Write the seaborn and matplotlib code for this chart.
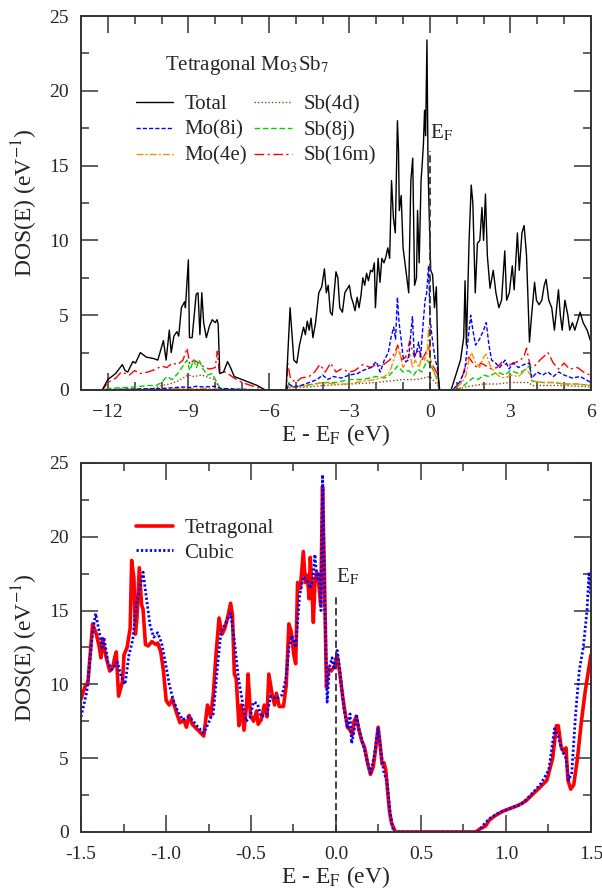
import matplotlib
matplotlib.use("Agg")
import matplotlib.pyplot as plt
import seaborn as sns
from matplotlib.ticker import MultipleLocator, FormatStrFormatter

# ---- top panel: tetragonal Mo3Sb7, total and partial DOS ----
tot_e = [-13.0, -12.21, -12.0, -11.71, -11.46, -11.36, -11.26, -11.07, -10.97, -10.79,
         -10.57, -10.29, -10.14, -9.93, -9.83, -9.71, -9.64, -9.54, -9.43, -9.36,
         -9.26, -9.14, -9.11, -9.0, -8.96, -8.86, -8.71, -8.64, -8.57, -8.5,
         -8.43, -8.33, -8.21, -8.11, -8.0, -7.93, -7.89, -7.83, -7.69, -7.54,
         -7.43, -7.29, -6.86, -6.43, -6.14, -5.36, -5.21, -5.07, -4.96, -4.86,
         -4.71, -4.64, -4.57, -4.5, -4.43, -4.36, -4.26, -4.14, -4.03, -3.93,
         -3.86, -3.79, -3.71, -3.64, -3.5, -3.43, -3.36, -3.26, -3.17, -3.07,
         -3.0, -2.93, -2.86, -2.79, -2.71, -2.64, -2.57, -2.5, -2.43, -2.36,
         -2.29, -2.21, -2.14, -2.07, -2.03, -1.93, -1.86, -1.79, -1.71, -1.64,
         -1.57, -1.5, -1.43, -1.36, -1.29, -1.21, -1.17, -1.14, -1.07, -1.0,
         -0.93, -0.86, -0.79, -0.71, -0.64, -0.57, -0.5, -0.46, -0.4, -0.33,
         -0.29, -0.24, -0.2, -0.16, -0.11, -0.07, -0.03, 0.03, 0.1, 0.17,
         0.24, 0.31, 0.36, 0.79, 0.93, 1.14, 1.26, 1.31, 1.36, 1.46,
         1.54, 1.6, 1.69, 1.77, 1.86, 1.94, 2.0, 2.07, 2.14, 2.24,
         2.36, 2.46, 2.57, 2.67, 2.79, 2.86, 2.96, 3.07, 3.14, 3.26,
         3.33, 3.43, 3.51, 3.6, 3.71, 3.79, 3.9, 3.97, 4.07, 4.17,
         4.26, 4.33, 4.43, 4.54, 4.64, 4.79, 4.86, 4.93, 5.03, 5.14,
         5.21, 5.31, 5.4, 5.5, 5.6, 5.71, 5.86, 6.0]
tot_dos = [0, 0, 0.7, 1.1, 1.7, 1.3, 1.2, 1.9, 1.8, 2.5,
           2.2, 2.1, 2.0, 3.3, 2.0, 4.0, 2.5, 3.6, 3.9, 3.6,
           5.5, 5.9, 5.5, 8.7, 3.5, 3.5, 6.4, 6.5, 3.7, 6.5,
           4.5, 3.5, 4.3, 4.7, 4.5, 4.7, 4.4, 1.1, 1.2, 1.9,
           1.5, 0.9, 0.6, 0.3, 0.0, 0.0, 5.5, 2.0, 1.8, 3.0,
           4.2, 3.7, 4.6, 4.0, 4.8, 3.5, 4.5, 6.5, 6.9, 8.1,
           6.5, 7.0, 5.2, 5.0, 7.9, 7.5, 5.5, 5.2, 6.5, 6.8,
           7.0, 6.2, 5.8, 5.3, 6.2, 5.5, 6.3, 7.5, 7.0, 7.8,
           7.3, 8.0, 7.9, 8.5, 5.5, 8.8, 7.2, 8.8, 8.5, 8.9,
           9.5, 8.8, 14.0, 11.5, 10.5, 18.0, 16.0, 12.0, 13.0, 9.5,
           8.5, 7.5, 6.5, 14.0, 15.5, 7.0, 7.5, 12.0, 8.5, 14.0,
           15.0, 16.5, 18.7, 17.0, 23.4, 15.0, 12.0, 8.0, 7.7, 5.5,
           6.9, 1.0, 0.0, 0.0, 0.8, 2.0, 3.5, 7.3, 3.0, 10.0,
           13.7, 12.5, 6.5, 9.8, 10.0, 12.2, 10.0, 13.1, 9.0, 6.8,
           8.0, 6.5, 5.5, 6.0, 9.3, 6.0, 6.5, 8.3, 6.7, 10.5,
           8.0, 10.5, 11.0, 9.0, 3.2, 5.0, 7.2, 6.0, 5.7, 6.0,
           7.0, 7.4, 6.0, 5.5, 4.0, 6.7, 5.0, 4.0, 6.0, 5.0,
           4.0, 4.5, 4.0, 4.6, 5.2, 4.5, 4.0, 3.2]

mo8i_e = [-13, -12.2, -11.5, -10, -9.2, -9.0, -8.7, -8.4, -8.0, -7.8,
          -7.0, -6.2, -5.35, -5.25, -5.1, -4.8, -4.5, -4.2, -4.0, -3.8,
          -3.6, -3.3, -3.0, -2.7, -2.5, -2.2, -2.0, -1.85, -1.7, -1.55,
          -1.45, -1.35, -1.28, -1.21, -1.15, -1.08, -1.0, -0.9, -0.8, -0.7,
          -0.65, -0.58, -0.5, -0.42, -0.35, -0.25, -0.18, -0.12, -0.05, 0.0,
          0.05, 0.12, 0.2, 0.28, 0.33, 0.36, 0.85, 1.1, 1.3, 1.4,
          1.52, 1.6, 1.7, 1.85, 2.0, 2.1, 2.2, 2.3, 2.45, 2.6,
          2.8, 2.95, 3.1, 3.3, 3.5, 3.7, 3.8, 4.0, 4.2, 4.4,
          4.6, 4.8, 5.0, 5.3, 5.6, 5.8, 6.0]
mo8i_dos = [0, 0, 0.05, 0.1, 0.2, 0.15, 0.25, 0.2, 0.25, 0.1,
            0.05, 0, 0, 0.4, 0.2, 0.3, 0.5, 0.7, 1.0, 0.7,
            0.9, 0.8, 1.0, 1.1, 1.3, 1.5, 1.9, 1.2, 2.0, 2.5,
            3.5, 4.2, 3.4, 6.2, 4.5, 3.5, 2.2, 1.9, 2.0, 4.0,
            4.9, 2.2, 2.5, 3.2, 2.2, 4.5, 6.0, 6.5, 8.3, 5.0,
            4.0, 3.0, 2.0, 1.5, 0.5, 0, 0, 0.5, 1.3, 3.0,
            5.0, 4.0, 3.0, 3.4, 4.0, 4.5, 3.0, 2.0, 1.8, 1.5,
            2.0, 1.4, 1.8, 1.5, 1.7, 1.8, 0.8, 1.2, 1.0, 1.2,
            0.9, 1.2, 1.0, 0.8, 0.9, 0.7, 0.5]

mo4e_e = [-13, -12.2, -11, -9.0, -8, -7.8, -6.5, -5.35, -5.25, -5.0,
          -4.5, -4.0, -3.5, -3.0, -2.5, -2.0, -1.7, -1.5, -1.35, -1.2,
          -1.1, -1.0, -0.9, -0.75, -0.65, -0.55, -0.4, -0.3, -0.2, -0.1,
          -0.05, 0.02, 0.1, 0.2, 0.3, 0.36, 0.9, 1.2, 1.35, 1.45,
          1.55, 1.7, 1.85, 2.0, 2.1, 2.25, 2.4, 2.6, 2.8, 3.0,
          3.3, 3.6, 3.75, 3.8, 4.2, 4.6, 5.0, 5.5, 6.0]
mo4e_dos = [0, 0, 0.05, 0.1, 0.1, 0.02, 0, 0, 0.3, 0.2,
            0.3, 0.5, 0.4, 0.4, 0.6, 0.7, 0.9, 1.2, 2.0, 2.8,
            2.3, 1.5, 1.8, 2.5, 1.5, 2.0, 1.5, 2.3, 2.0, 2.5,
            4.2, 2.0, 1.5, 1.0, 0.4, 0, 0, 0.5, 1.0, 2.0,
            2.5, 1.8, 1.5, 2.2, 2.4, 1.6, 1.2, 0.9, 0.8, 1.0,
            0.9, 1.4, 1.0, 0.6, 0.5, 0.5, 0.4, 0.4, 0.3]

sb4d_e = [-13, -12.2, -11, -10.3, -10, -9.7, -9.4, -9.2, -9.0, -8.8,
          -8.5, -8.2, -8.0, -7.85, -7.0, -6.2, -5.35, -5.25, -4.5, -4.0,
          -3.0, -2.0, -1.5, -1.0, -0.5, 0.0, 0.15, 0.3, 0.36, 1.0,
          1.3, 2.0, 2.5, 3.0, 3.7, 3.8, 4.5, 5.0, 6.0]
sb4d_dos = [0, 0, 0.05, 0.1, 0.3, 0.4, 0.6, 0.8, 1.0, 0.9,
            1.0, 0.8, 0.7, 0.1, 0.02, 0, 0, 0.15, 0.2, 0.3,
            0.4, 0.5, 0.6, 0.7, 0.7, 0.9, 0.6, 0.3, 0, 0,
            0.2, 0.4, 0.4, 0.5, 0.5, 0.3, 0.3, 0.3, 0.2]

sb8j_e = [-13, -12.2, -12, -11, -10.5, -10.2, -10.0, -9.8, -9.6, -9.4,
          -9.2, -9.05, -8.95, -8.8, -8.7, -8.6, -8.45, -8.3, -8.1, -7.95,
          -7.8, -7.0, -5.35, -5.25, -5.1, -4.8, -4.5, -4.0, -3.5, -3.0,
          -2.5, -2.0, -1.7, -1.5, -1.3, -1.2, -1.0, -0.8, -0.6, -0.45,
          -0.3, -0.1, 0.05, 0.15, 0.3, 0.36, 1.0, 1.2, 1.4, 1.6,
          1.8, 2.0, 2.2, 2.5, 2.8, 3.0, 3.3, 3.5, 3.7, 3.8,
          4.2, 4.6, 5.0, 5.5, 6.0]
sb8j_dos = [0, 0, 0.1, 0.2, 0.3, 0.3, 0.5, 0.9, 0.7, 1.1,
            1.6, 2.0, 1.3, 2.0, 1.5, 2.0, 1.4, 1.0, 1.1, 0.5,
            0.1, 0.0, 0, 0.5, 0.2, 0.3, 0.35, 0.5, 0.5, 0.7,
            0.7, 0.9, 0.8, 1.0, 1.4, 1.6, 1.2, 1.3, 1.0, 1.4,
            1.2, 2.0, 1.6, 1.2, 0.6, 0, 0, 0.2, 0.5, 0.8,
            0.7, 1.0, 0.9, 1.2, 1.0, 1.3, 1.1, 1.3, 1.6, 0.6,
            0.5, 0.5, 0.4, 0.4, 0.3]

sb16m_e = [-13, -12.2, -12.0, -11.7, -11.5, -11.2, -11.0, -10.8, -10.5, -10.2,
           -10.0, -9.8, -9.6, -9.4, -9.2, -9.05, -8.95, -8.8, -8.6, -8.4,
           -8.2, -8.0, -7.92, -7.85, -7.6, -7.3, -7.0, -6.5, -6.1, -5.35,
           -5.3, -5.2, -5.0, -4.8, -4.5, -4.3, -4.1, -3.9, -3.7, -3.5,
           -3.3, -3.0, -2.8, -2.5, -2.2, -2.0, -1.8, -1.5, -1.3, -1.2,
           -1.05, -0.9, -0.75, -0.6, -0.45, -0.3, -0.15, -0.05, 0.05, 0.15,
           0.3, 0.36, 0.95, 1.15, 1.3, 1.45, 1.6, 1.75, 1.9, 2.1,
           2.3, 2.5, 2.7, 2.9, 3.1, 3.3, 3.5, 3.6, 3.75, 3.9,
           4.1, 4.4, 4.6, 4.8, 5.0, 5.2, 5.5, 5.8, 6.0]
sb16m_dos = [0, 0, 0.5, 0.8, 1.2, 1.0, 1.3, 1.1, 1.2, 1.4,
             1.6, 1.5, 1.8, 1.7, 2.0, 2.8, 1.7, 2.0, 1.8, 1.5,
             1.4, 1.5, 2.6, 1.2, 1.2, 0.8, 0.5, 0.2, 0, 0,
             1.8, 0.8, 0.5, 0.8, 0.9, 1.2, 1.7, 1.2, 1.8, 1.2,
             1.4, 1.2, 1.3, 1.7, 1.5, 1.7, 1.6, 2.0, 2.5, 3.0,
             2.0, 2.2, 3.3, 2.3, 2.6, 2.0, 2.5, 3.0, 1.8, 1.5,
             1.0, 0, 0, 0.5, 1.5, 2.2, 1.8, 1.5, 1.8, 1.6,
             1.4, 1.5, 1.9, 1.6, 1.8, 1.9, 2.2, 2.8, 1.5, 1.6,
             2.0, 2.5, 1.8, 1.4, 1.8, 1.4, 1.5, 1.1, 1.0]

# ---- bottom panel: tetragonal vs cubic total DOS near E_F ----
tet_e = [-1.5, -1.473, -1.46, -1.432, -1.41, -1.392, -1.383, -1.374, -1.36, -1.331,
         -1.315, -1.302, -1.293, -1.279, -1.256, -1.247, -1.229, -1.211, -1.202, -1.189,
         -1.18, -1.171, -1.157, -1.144, -1.135, -1.121, -1.105, -1.083, -1.06, -1.049,
         -1.031, -1.015, -0.999, -0.981, -0.963, -0.936, -0.918, -0.896, -0.88, -0.864,
         -0.846, -0.812, -0.778, -0.756, -0.738, -0.722, -0.706, -0.688, -0.67, -0.654,
         -0.638, -0.62, -0.609, -0.598, -0.587, -0.571, -0.557, -0.541, -0.526, -0.517,
         -0.503, -0.485, -0.467, -0.458, -0.44, -0.422, -0.406, -0.395, -0.377, -0.361,
         -0.35, -0.334, -0.309, -0.293, -0.277, -0.264, -0.248, -0.237, -0.226, -0.21,
         -0.192, -0.18, -0.169, -0.158, -0.151, -0.142, -0.133, -0.124, -0.113, -0.102,
         -0.09, -0.079, -0.068, -0.056, -0.045, -0.029, -0.016, -0.007, 0.007, 0.023,
         0.038, 0.052, 0.068, 0.083, 0.097, 0.106, 0.12, 0.135, 0.151, 0.169,
         0.187, 0.203, 0.219, 0.232, 0.248, 0.259, 0.271, 0.282, 0.293, 0.305,
         0.316, 0.327, 0.35, 0.823, 0.846, 0.88, 0.902, 0.936, 0.981, 1.026,
         1.072, 1.117, 1.162, 1.207, 1.241, 1.275, 1.297, 1.308, 1.324, 1.342,
         1.353, 1.365, 1.381, 1.399, 1.421, 1.444, 1.466, 1.5]
tet_dos = [9.0, 10.0, 10.0, 14.1, 13.4, 12.5, 11.8, 13.1, 12.2, 10.9,
           11.1, 11.8, 12.2, 9.2, 10.2, 12.0, 12.5, 13.8, 18.4, 17.2,
           13.4, 14.5, 17.9, 15.4, 15.1, 12.7, 12.6, 12.9, 12.7, 12.8,
           12.2, 10.9, 8.9, 8.6, 9.0, 8.0, 7.4, 7.6, 7.1, 7.9,
           7.3, 6.9, 6.5, 8.6, 7.8, 9.3, 12.0, 14.5, 13.4, 13.8,
           14.5, 15.5, 14.7, 10.7, 10.4, 7.2, 8.6, 6.9, 8.6, 10.7,
           7.9, 7.5, 8.2, 7.3, 7.6, 8.6, 7.8, 10.7, 9.4, 8.6,
           9.4, 8.5, 8.5, 9.9, 14.1, 13.6, 12.0, 11.4, 16.9, 16.5,
           19.0, 16.9, 17.4, 15.8, 18.6, 16.5, 14.2, 16.9, 17.6, 16.9,
           15.4, 23.4, 17.4, 9.8, 11.1, 10.9, 11.1, 11.3, 12.0, 10.7,
           9.3, 8.2, 7.1, 6.9, 6.6, 7.5, 7.8, 6.9, 6.2, 5.7,
           4.6, 3.9, 4.4, 5.5, 7.1, 6.0, 4.6, 4.7, 4.2, 2.6,
           1.3, 0.6, 0.0, 0.0, 0.2, 0.4, 0.8, 1.1, 1.4, 1.6,
           1.8, 2.1, 2.6, 3.1, 3.5, 5.0, 7.2, 7.2, 5.8, 5.4,
           5.7, 3.5, 2.9, 3.2, 5.0, 7.5, 9.5, 12.0]

cub_e = [-1.5, -1.466, -1.432, -1.414, -1.392, -1.376, -1.365, -1.342, -1.32, -1.286,
         -1.263, -1.241, -1.218, -1.196, -1.173, -1.155, -1.135, -1.117, -1.094, -1.072,
         -1.049, -1.026, -1.004, -0.981, -0.959, -0.932, -0.902, -0.868, -0.846, -0.812,
         -0.778, -0.734, -0.722, -0.699, -0.677, -0.643, -0.62, -0.598, -0.575, -0.553,
         -0.53, -0.508, -0.485, -0.462, -0.44, -0.406, -0.384, -0.35, -0.316, -0.293,
         -0.277, -0.259, -0.237, -0.214, -0.192, -0.169, -0.151, -0.135, -0.124, -0.111,
         -0.097, -0.088, -0.079, -0.065, -0.052, -0.038, -0.023, -0.011, 0.007, 0.023,
         0.045, 0.068, 0.083, 0.092, 0.106, 0.12, 0.135, 0.158, 0.18, 0.203,
         0.226, 0.248, 0.264, 0.282, 0.3, 0.316, 0.338, 0.835, 0.869, 0.902,
         0.959, 1.026, 1.094, 1.162, 1.207, 1.252, 1.286, 1.308, 1.331, 1.353,
         1.369, 1.387, 1.41, 1.432, 1.455, 1.477, 1.489, 1.5]
cub_dos = [7.8, 9.5, 13.5, 14.8, 13.5, 12.5, 13.2, 11.5, 11.0, 11.5,
           10.5, 10.0, 12.0, 13.0, 15.5, 16.5, 17.6, 16.0, 14.0, 13.2,
           13.5, 12.8, 11.5, 10.0, 9.0, 8.2, 7.6, 7.8, 7.6, 7.1,
           6.7, 7.8, 8.0, 11.0, 13.5, 14.3, 14.8, 13.0, 10.5, 9.0,
           7.5, 7.7, 8.8, 8.7, 7.8, 8.0, 9.2, 9.0, 9.3, 10.5,
           12.5, 13.3, 12.5, 16.0, 17.3, 17.0, 16.5, 17.2, 18.8, 17.0,
           17.6, 15.0, 24.2, 15.0, 8.8, 11.2, 11.8, 11.0, 12.3, 11.0,
           8.5, 7.0, 8.0, 6.0, 6.8, 8.0, 7.0, 6.0, 5.0, 4.0,
           5.2, 7.0, 5.5, 4.0, 3.5, 1.5, 0.0, 0.0, 0.5, 0.9,
           1.3, 1.6, 1.9, 2.7, 3.3, 4.2, 7.0, 6.5, 5.5, 5.0,
           3.5, 4.0, 8.0, 11.0, 12.5, 15.0, 17.6, 16.0]

sns.set_style("ticks")
plt.rcParams['font.family'] = ['Liberation Serif', 'DejaVu Serif']
plt.rcParams['mathtext.fontset'] = 'stix'

fig = plt.figure(figsize=(6.02, 8.90), dpi=100)
ax1 = fig.add_axes([0.1346, 0.5618, 0.847, 0.4202])
ax2 = fig.add_axes([0.1346, 0.0652, 0.847, 0.4146])


def style_axes(ax):
    for sp in ax.spines.values():
        sp.set_linewidth(1.4)
        sp.set_color('#333333')
    ax.tick_params(axis='both', which='both', direction='in', top=True, right=True,
                   width=1.1, color='#333333', labelsize=14)
    ax.tick_params(axis='both', which='major', length=12)
    ax.tick_params(axis='both', which='minor', length=6)
    ax.tick_params(axis='x', which='both', pad=10)
    ax.tick_params(axis='y', which='both', pad=9)
    ax.set_ylim(0, 25)
    ax.yaxis.set_major_locator(MultipleLocator(5))
    ax.yaxis.set_minor_locator(MultipleLocator(2.5))
    ax.set_ylabel('DOS(E) (eV$^{-1}$)', fontsize=17)
    ax.yaxis.set_label_coords(-0.08, 0.5)
    ax.set_xlabel('E - E$_\\mathrm{F}$ (eV)', fontsize=17, labelpad=1)


# top panel
sns.lineplot(x=sb16m_e, y=sb16m_dos, ax=ax1, color='#ff0000', linewidth=1.0,
             linestyle=(0, (7, 2.5, 1.5, 2.5)), estimator=None, label='Sb(16m)')
sns.lineplot(x=sb8j_e, y=sb8j_dos, ax=ax1, color='#00d000', linewidth=1.0,
             linestyle=(0, (4, 2)), estimator=None, label='Sb(8j)')
sns.lineplot(x=sb4d_e, y=sb4d_dos, ax=ax1, color='#8b4513', linewidth=1.0,
             linestyle=(0, (1, 1.5)), estimator=None, label='Sb(4d)')
sns.lineplot(x=mo4e_e, y=mo4e_dos, ax=ax1, color='#ff8c00', linewidth=1.0,
             linestyle=(0, (5, 1.5, 1.5, 1.5)), estimator=None, label='Mo(4e)')
sns.lineplot(x=mo8i_e, y=mo8i_dos, ax=ax1, color='#0000ff', linewidth=1.0,
             linestyle=(0, (3, 1.5)), estimator=None, label='Mo(8i)')
sns.lineplot(x=tot_e, y=tot_dos, ax=ax1, color='black', linewidth=1.0,
             estimator=None, label='Total')
ax1.plot([0, 0], [0, 16], color='#333333', linestyle=(0, (4, 2)), linewidth=1.3)
ax1.text(0.02, 17.2, 'E$_\\mathrm{F}$', fontsize=15, va='center', ha='left')
ax1.text(-9.86, 21.7, 'Tetragonal Mo$_3$Sb$_7$', fontsize=15, va='center', ha='left')

ax1.set_xlim(-13, 6)
ax1.xaxis.set_major_locator(MultipleLocator(3))
ax1.xaxis.set_minor_locator(MultipleLocator(1))
style_axes(ax1)

h, l = ax1.get_legend_handles_labels()
order = ['Total', 'Mo(8i)', 'Mo(4e)', 'Sb(4d)', 'Sb(8j)', 'Sb(16m)']
hd = dict(zip(l, h))
ax1.legend([hd[k] for k in order], order, ncol=2, loc='upper left',
           bbox_to_anchor=(0.107, 0.79), frameon=False, fontsize=15,
           borderaxespad=0, borderpad=0, handlelength=1.8, handletextpad=0.55,
           columnspacing=0.35, labelspacing=0.3)

# bottom panel
sns.lineplot(x=tet_e, y=tet_dos, ax=ax2, color='#ff0000', linewidth=2.6,
             estimator=None, label='Tetragonal')
sns.lineplot(x=cub_e, y=cub_dos, ax=ax2, color='#0000ff', linewidth=2.0,
             linestyle=(0, (0.8, 0.8)), estimator=None, label='Cubic')
ax2.plot([0, 0], [0, 16], color='#333333', linestyle=(0, (4, 2)), linewidth=1.3)
ax2.text(0.0, 17.3, 'E$_\\mathrm{F}$', fontsize=15, va='center', ha='left')

ax2.set_xlim(-1.5, 1.5)
ax2.xaxis.set_major_locator(MultipleLocator(0.5))
ax2.xaxis.set_minor_locator(MultipleLocator(0.25))
ax2.xaxis.set_major_formatter(FormatStrFormatter('%.1f'))
style_axes(ax2)
ax2.legend(loc='upper left', bbox_to_anchor=(0.107, 0.85), frameon=False, fontsize=15,
           borderaxespad=0, borderpad=0, handlelength=1.8, handletextpad=0.55,
           labelspacing=0.25)

fig.savefig('out.png', dpi=100)
